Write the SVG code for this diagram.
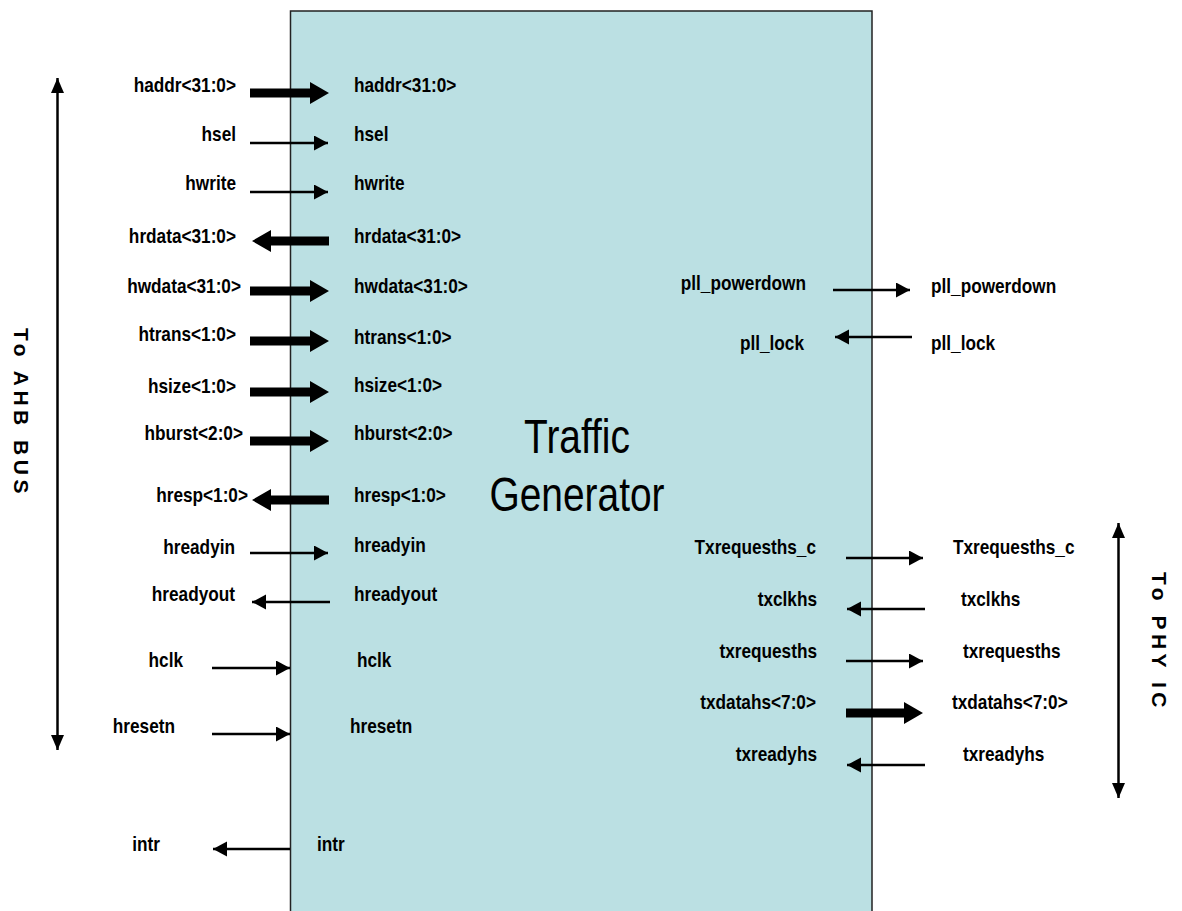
<svg xmlns="http://www.w3.org/2000/svg" width="1182" height="911" viewBox="0 0 1182 911">
  <style>
    .lbl { font-family: "Liberation Sans", Arial, sans-serif; font-weight: bold; font-size: 21px; fill: #000; }
    .end { text-anchor: end; }
    .title { font-family: "Liberation Sans", Arial, sans-serif; font-size: 48px; fill: #000; text-anchor: middle; }
    .side { font-family: "Liberation Sans", Arial, sans-serif; font-weight: bold; font-size: 21px; fill: #000; letter-spacing: 4.5px; text-anchor: middle; }
    .thin { stroke: #000; stroke-width: 2.5; fill: none; marker-end: url(#head); }
    .bus { stroke: #000; stroke-width: 2.5; fill: none; marker-start: url(#head2); marker-end: url(#head2); }
    .thick { fill: #000; }
  </style>
  <defs>
    <marker id="head" markerUnits="userSpaceOnUse" markerWidth="15" markerHeight="16" refX="14" refY="7.5" orient="auto">
      <path d="M0,0 L14,7.5 L0,15 z" fill="#000"/>
    </marker>
    <marker id="head2" markerUnits="userSpaceOnUse" markerWidth="16" markerHeight="14" refX="15" refY="6.5" orient="auto-start-reverse">
      <path d="M0,0 L15,6.5 L0,13 z" fill="#000"/>
    </marker>
  </defs>
  <rect width="1182" height="911" fill="#fff"/>

  <!-- main block -->
  <g id="traffic-generator">
    <rect x="290.5" y="11" width="581.5" height="910" fill="#BBE0E3" stroke="#222" stroke-width="1.5"/>
    <text class="title" transform="translate(577,453) scale(0.81,1)">Traffic</text>
    <text class="title" transform="translate(577,511) scale(0.81,1)">Generator</text>
  </g>

  <!-- bus side labels -->
  <g id="ahb-bus">
    <text class="side" transform="translate(14,413) rotate(90)">To  AHB  BUS</text>
  </g>
  <g id="phy-ic">
    <text class="side" transform="translate(1152,642) rotate(90)">To PHY IC</text>
  </g>

  <!-- connectors -->
  <g id="connectors">
    <!-- bus extents -->
    <line class="bus" x1="57.5" y1="78" x2="57.5" y2="750"/>
    <line class="bus" x1="1118.5" y1="523" x2="1118.5" y2="798"/>

    <!-- wide buses (AHB side) -->
    <polygon class="thick" points="250,88.5 310,88.5 310,82 329,93 310,104 310,97.5 250,97.5"/>
    <polygon class="thick" points="329,236.5 271,236.5 271,230 252,241 271,252 271,245.5 329,245.5"/>
    <polygon class="thick" points="250,286.5 310,286.5 310,280 329,291 310,302 310,295.5 250,295.5"/>
    <polygon class="thick" points="250,336.5 310,336.5 310,330 329,341 310,352 310,345.5 250,345.5"/>
    <polygon class="thick" points="250,387.5 310,387.5 310,381 329,392 310,403 310,396.5 250,396.5"/>
    <polygon class="thick" points="250,436.5 310,436.5 310,430 329,441 310,452 310,445.5 250,445.5"/>
    <polygon class="thick" points="329,495.5 271,495.5 271,489 252,500 271,511 271,504.5 329,504.5"/>

    <!-- single-bit signals (AHB side) -->
    <line class="thin" x1="250" y1="143" x2="328" y2="143"/>
    <line class="thin" x1="250" y1="192" x2="328" y2="192"/>
    <line class="thin" x1="250" y1="553" x2="328" y2="553"/>
    <line class="thin" x1="330" y1="602" x2="252" y2="602"/>
    <line class="thin" x1="212" y1="668" x2="290" y2="668"/>
    <line class="thin" x1="212" y1="734" x2="290" y2="734"/>
    <line class="thin" x1="290" y1="849" x2="213" y2="849"/>

    <!-- PLL -->
    <line class="thin" x1="833" y1="290" x2="910" y2="290"/>
    <line class="thin" x1="912" y1="337" x2="835" y2="337"/>

    <!-- PHY side -->
    <line class="thin" x1="846" y1="558" x2="923" y2="558"/>
    <line class="thin" x1="925" y1="609" x2="847" y2="609"/>
    <line class="thin" x1="846" y1="661" x2="923" y2="661"/>
    <polygon class="thick" points="846,708.5 904,708.5 904,702 923,713 904,724 904,717.5 846,717.5"/>
    <line class="thin" x1="925" y1="765" x2="847" y2="765"/>
  </g>

  <!-- AHB port labels, outside (condensed by horizontal scale) -->
  <g id="ahb-ports-outside">
    <text class="lbl end" transform="translate(236,92) scale(0.82,1)">haddr&lt;31:0&gt;</text>
    <text class="lbl end" transform="translate(236,141) scale(0.82,1)">hsel</text>
    <text class="lbl end" transform="translate(236,190) scale(0.82,1)">hwrite</text>
    <text class="lbl end" transform="translate(236,243) scale(0.82,1)">hrdata&lt;31:0&gt;</text>
    <text class="lbl end" transform="translate(241,293) scale(0.82,1)">hwdata&lt;31:0&gt;</text>
    <text class="lbl end" transform="translate(236,341) scale(0.82,1)">htrans&lt;1:0&gt;</text>
    <text class="lbl end" transform="translate(236,393) scale(0.82,1)">hsize&lt;1:0&gt;</text>
    <text class="lbl end" transform="translate(243,440) scale(0.82,1)">hburst&lt;2:0&gt;</text>
    <text class="lbl end" transform="translate(248,502) scale(0.82,1)">hresp&lt;1:0&gt;</text>
    <text class="lbl end" transform="translate(235,554) scale(0.82,1)">hreadyin</text>
    <text class="lbl end" transform="translate(235,601) scale(0.82,1)">hreadyout</text>
    <text class="lbl end" transform="translate(183,667) scale(0.82,1)">hclk</text>
    <text class="lbl end" transform="translate(175,733) scale(0.82,1)">hresetn</text>
    <text class="lbl end" transform="translate(160,851) scale(0.82,1)">intr</text>
  </g>

  <!-- AHB port labels, inside -->
  <g id="ahb-ports-inside">
    <text class="lbl" transform="translate(354,92) scale(0.82,1)">haddr&lt;31:0&gt;</text>
    <text class="lbl" transform="translate(354,141) scale(0.82,1)">hsel</text>
    <text class="lbl" transform="translate(354,190) scale(0.82,1)">hwrite</text>
    <text class="lbl" transform="translate(354,243) scale(0.82,1)">hrdata&lt;31:0&gt;</text>
    <text class="lbl" transform="translate(354,293) scale(0.82,1)">hwdata&lt;31:0&gt;</text>
    <text class="lbl" transform="translate(354,344) scale(0.82,1)">htrans&lt;1:0&gt;</text>
    <text class="lbl" transform="translate(354,392) scale(0.82,1)">hsize&lt;1:0&gt;</text>
    <text class="lbl" transform="translate(354,440) scale(0.82,1)">hburst&lt;2:0&gt;</text>
    <text class="lbl" transform="translate(354,502) scale(0.82,1)">hresp&lt;1:0&gt;</text>
    <text class="lbl" transform="translate(354,552) scale(0.82,1)">hreadyin</text>
    <text class="lbl" transform="translate(354,601) scale(0.82,1)">hreadyout</text>
    <text class="lbl" transform="translate(357,667) scale(0.82,1)">hclk</text>
    <text class="lbl" transform="translate(350,733) scale(0.82,1)">hresetn</text>
    <text class="lbl" transform="translate(317,851) scale(0.82,1)">intr</text>
  </g>

  <!-- PLL and PHY port labels, inside -->
  <g id="phy-ports-inside">
    <text class="lbl end" transform="translate(806,290) scale(0.82,1)">pll_powerdown</text>
    <text class="lbl end" transform="translate(804,350) scale(0.82,1)">pll_lock</text>
    <text class="lbl end" transform="translate(816,554) scale(0.82,1)">Txrequesths_c</text>
    <text class="lbl end" transform="translate(817,606) scale(0.82,1)">txclkhs</text>
    <text class="lbl end" transform="translate(817,658) scale(0.82,1)">txrequesths</text>
    <text class="lbl end" transform="translate(816,709) scale(0.82,1)">txdatahs&lt;7:0&gt;</text>
    <text class="lbl end" transform="translate(817,761) scale(0.82,1)">txreadyhs</text>
  </g>

  <!-- PLL and PHY port labels, outside -->
  <g id="phy-ports-outside">
    <text class="lbl" transform="translate(931,293) scale(0.82,1)">pll_powerdown</text>
    <text class="lbl" transform="translate(931,350) scale(0.82,1)">pll_lock</text>
    <text class="lbl" transform="translate(953,554) scale(0.82,1)">Txrequesths_c</text>
    <text class="lbl" transform="translate(961,606) scale(0.82,1)">txclkhs</text>
    <text class="lbl" transform="translate(963,658) scale(0.82,1)">txrequesths</text>
    <text class="lbl" transform="translate(952,709) scale(0.82,1)">txdatahs&lt;7:0&gt;</text>
    <text class="lbl" transform="translate(963,761) scale(0.82,1)">txreadyhs</text>
  </g>
</svg>
